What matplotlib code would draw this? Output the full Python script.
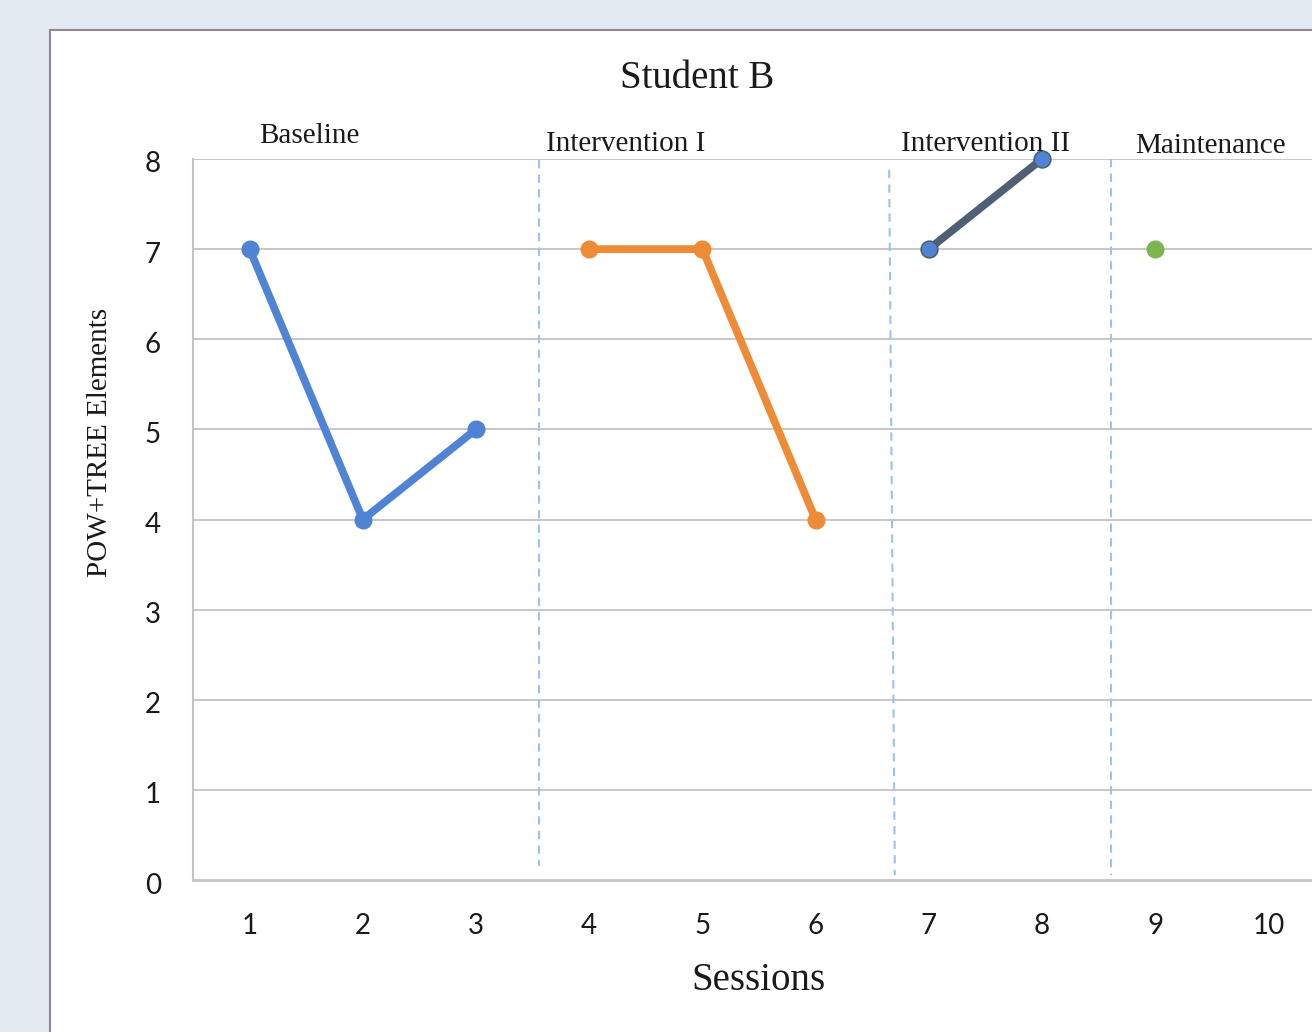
import matplotlib
matplotlib.use("Agg")
import matplotlib.pyplot as plt
from matplotlib.patches import Rectangle
from matplotlib.transforms import ScaledTranslation

# Sessions and scores for each phase
baseline_x = [1, 2, 3]
baseline_y = [7, 4, 5]
interv1_x = [4, 5, 6]
interv1_y = [7, 7, 4]
interv2_x = [7, 8]
interv2_y = [7, 8]
maint_x = [9]
maint_y = [7]

session_ticks = [1, 2, 3, 4, 5, 6, 7, 8, 9, 10]
score_ticks = [0, 1, 2, 3, 4, 5, 6, 7, 8]

# Phase labels and where they sit above the plot
phase_names = ["Baseline", "Intervention I", "Intervention II", "Maintenance"]
phase_label_x = [1.53, 4.32, 7.50, 9.49]
phase_label_y = [8.25, 8.17, 8.17, 8.14]

# Phase-change lines (x at top, x at bottom, y top, y bottom)
divider_x_top = [3.56, 6.65, 8.61]
divider_x_bot = [3.56, 6.70, 8.61]
divider_y_top = [7.99, 7.88, 8.0]
divider_y_bot = [0.155, 0.055, 0.055]

W, H = 1312, 1032
fig = plt.figure(figsize=(W / 100, H / 100), dpi=100)
fig.patch.set_facecolor("#e3e9f1")

# White chart panel with grey border
panel = Rectangle((50 / W, -0.2), 1.2, (1032 - 30) / H + 0.2,
                  transform=fig.transFigure, facecolor="white",
                  edgecolor="#8c8c8c", linewidth=1.5, zorder=0)
fig.add_artist(panel)

ax = fig.add_axes([193 / W, (H - 880) / H, (1325 - 193) / W, (880 - 159) / H])
ax.set_facecolor("white")
ax.set_xlim(0.5, 10.5)
ax.set_ylim(0, 8)

for s in ["top", "right"]:
    ax.spines[s].set_visible(False)
ax.spines["left"].set_color("#c4c4c4")
ax.spines["left"].set_linewidth(1.5)
ax.spines["bottom"].set_color("#c8c8c8")
ax.spines["bottom"].set_linewidth(2.2)

ax.set_yticks(score_ticks)
ax.set_xticks(session_ticks)
ax.yaxis.grid(True, color="#bdbdbd", linewidth=1.2)
ax.set_axisbelow(True)
ax.tick_params(axis="both", length=0, labelsize=20, colors="#1a1a1a")
ax.tick_params(axis="y", pad=23)
ax.tick_params(axis="x", pad=24)
shift = ScaledTranslation(0, -3 / 100, fig.dpi_scale_trans)
for lab in ax.get_xticklabels() + ax.get_yticklabels():
    lab.set_fontfamily("Lato")
for lab in ax.get_yticklabels():
    lab.set_transform(lab.get_transform() + shift)

blue = "#4f84d4"
orange = "#ee8b37"
slate = "#4e5f76"
green = "#7bb650"

lw = 5.6
ms = 12
ax.plot(baseline_x, baseline_y, color=blue, lw=lw, marker="o", ms=ms,
        mec=blue, clip_on=False, zorder=3, solid_capstyle="round")
ax.plot(interv1_x, interv1_y, color=orange, lw=lw, marker="o", ms=ms,
        mec=orange, clip_on=False, zorder=3, solid_capstyle="round")
ax.plot(interv2_x, interv2_y, color=slate, lw=lw, marker="o", ms=ms,
        mfc=blue, mec=slate, mew=1.2, clip_on=False, zorder=3)
ax.plot(maint_x, maint_y, color=green, lw=0, marker="o", ms=ms,
        mec=green, clip_on=False, zorder=3)

for xt, xb, yt, yb in zip(divider_x_top, divider_x_bot, divider_y_top, divider_y_bot):
    ax.plot([xt, xb], [yt, yb], color="#9cc4ea", lw=1.5,
            linestyle=(0, (4, 3)), clip_on=False, zorder=2)

serif = "Liberation Serif"
for name, x, y in zip(phase_names, phase_label_x, phase_label_y):
    ax.text(x, y, name, ha="center", va="center", fontsize=21,
            family=serif, color="#1a1a1a")

fig.text(697 / W, 1 - 79 / H, "Student B", ha="center", va="center",
         fontsize=28, family=serif, color="#1a1a1a")
fig.text(758 / W, 1 - 981 / H, "Sessions", ha="center", va="center",
         fontsize=28, family=serif, color="#1a1a1a")
fig.text(100 / W, 1 - 442 / H, "POW+TREE Elements", ha="center", va="center",
         rotation=90, fontsize=21, family=serif, color="#1a1a1a")

fig.savefig("out.png", dpi=100, facecolor=fig.get_facecolor())
